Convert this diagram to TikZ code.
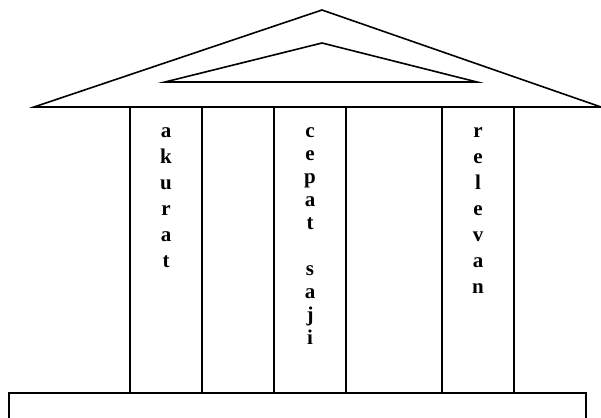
\documentclass[tikz,border=0pt]{standalone}
\usepackage{fontspec}
\setmainfont{Liberation Serif}[BoldFont={Liberation Serif Bold}]
\newfontfamily\lbold{Liberation Serif Bold}
\begin{document}
\begin{tikzpicture}[x=1pt,y=-1pt,
  lt/.style={font=\lbold\fontsize{21}{24}\selectfont, inner sep=0pt, anchor=base},
  ln/.style={line width=1.6pt, line join=miter},
  col/.style={line width=1.2pt}]
\useasboundingbox (0,0) rectangle (601,417);
\clip (0,0) rectangle (601,417);
% pediment
\coordinate (apex) at (322,10);
\coordinate (bl) at (34,107);
\coordinate (br) at (601,107);
\draw[ln] (bl) -- (apex) -- (br) -- cycle;
\coordinate (iapex) at (322,43);
\coordinate (ibl) at (165,82);
\coordinate (ibr) at (477,82);
\draw[ln] (ibl) -- (iapex) -- (ibr) -- cycle;
% columns
\foreach \x [count=\i] in {130,202,274,346,442,514} {
  \coordinate (ct\i) at (\x,107);
  \coordinate (cb\i) at (\x,393);
  \draw[col] (ct\i) -- (cb\i);
}
% base
\coordinate (b1) at (9,393);
\coordinate (b2) at (586,430);
\draw[ln] (b1) rectangle (b2);
% texts
\foreach \ch [count=\i] in {a,k,u,r,a,t}
  \node[lt] (ak\i) at (166,{137+26*(\i-1)}) {\ch};
\foreach \ch [count=\i] in {c,e,p,a,t}
  \node[lt] (ce\i) at (310,{137+23*(\i-1)}) {\ch};
\foreach \ch [count=\i] in {s,a,j,i}
  \node[lt] (sa\i) at (310,{275+23*(\i-1)}) {\ch};
\foreach \ch [count=\i] in {r,e,l,e,v,a,n}
  \node[lt] (re\i) at (478,{137+26*(\i-1)}) {\ch};
\end{tikzpicture}
\end{document}
